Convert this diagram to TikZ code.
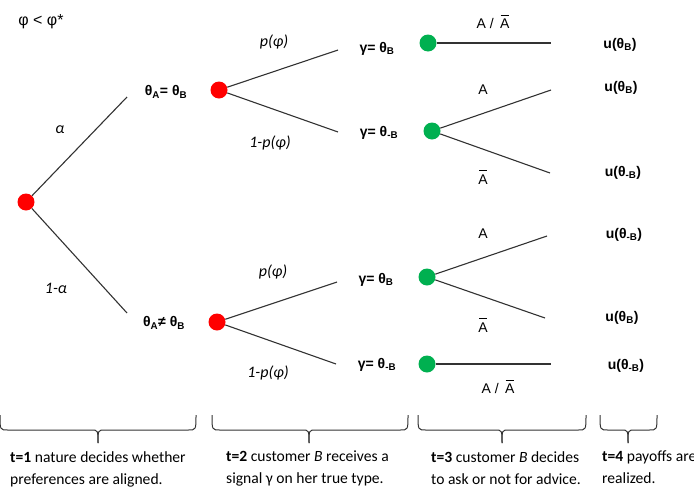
\documentclass[tikz,border=0pt]{standalone}
\usepackage{fontspec}
\setmainfont{Carlito}
\newfontfamily\labfont{Liberation Sans}
\definecolor{dotred}{RGB}{255,0,0}
\definecolor{dotgreen}{RGB}{0,176,80}
\definecolor{linegray}{RGB}{50,50,50}
\newcommand\sbs[1]{\textsubscript{#1}}
\newcommand\Abar{\leavevmode\rlap{\hspace{0.05em}\rule[0.93em]{0.57em}{0.07em}}A}
\begin{document}
\begin{tikzpicture}[x=1pt,y=-1pt,
  rdot/.style={circle,fill=dotred,minimum size=17pt,inner sep=0},
  gdot/.style={circle,fill=dotgreen,minimum size=17pt,inner sep=0},
  edge/.style={draw=linegray,line width=1.1pt},
  lab/.style={font=\labfont\bfseries\fontsize{14}{16}\selectfont,inner sep=0},
  act/.style={font=\labfont\fontsize{14}{16}\selectfont,inner sep=0},
  prob/.style={font=\itshape\fontsize{16}{18}\selectfont,inner sep=0},
  bracestyle/.style={draw=linegray,line width=1pt},
  desc/.style={font=\fontsize{15.6}{22}\selectfont,anchor=north west,align=left,inner sep=0}]
\useasboundingbox (0,0) rectangle (694,501);
% free ends
\coordinate (r1) at (127,97);
\coordinate (r2) at (127,313);
\coordinate (a1) at (338,50);
\coordinate (a2) at (338,132);
\coordinate (b1) at (337,282);
\coordinate (b2) at (336,364);
\coordinate (e1) at (551,43);
\coordinate (e2) at (551,90);
\coordinate (e3) at (550,173);
\coordinate (e4) at (547,236);
\coordinate (e5) at (545,318);
\coordinate (e6) at (551,364);
% decision nodes
\node[rdot] (r) at (26,202) {};
\node[rdot] (a) at (219,90) {};
\node[rdot] (b) at (217,322) {};
\node[gdot] (g1) at (428,43) {};
\node[gdot] (g2) at (432,131) {};
\node[gdot] (g3) at (427,277) {};
\node[gdot] (g4) at (427,364) {};
% edges
\draw[edge] (r) -- (r1);
\draw[edge] (r) -- (r2);
\draw[edge] (a) -- (a1);
\draw[edge] (a) -- (a2);
\draw[edge] (b) -- (b1);
\draw[edge] (b) -- (b2);
\draw[edge] (g1) -- (e1);
\draw[edge] (g2) -- (e2);
\draw[edge] (g2) -- (e3);
\draw[edge] (g3) -- (e4);
\draw[edge] (g3) -- (e5);
\draw[edge] (g4) -- (e6);
% title
\node[act,font=\labfont\fontsize{16}{18}\selectfont] (cond) at (41,22) {φ < φ*};
% probability labels
\node[prob] (lalpha) at (60,130) {α};
\node[prob] (l1alpha) at (56,288) {1-α};
\node[prob] (lpa) at (274,42) {p(φ)};
\node[prob] (lqa) at (270,143) {1-p(φ)};
\node[prob] (lpb) at (273,272) {p(φ)};
\node[prob] (lqb) at (268,373) {1-p(φ)};
% state labels
\node[lab] (sa) at (166,92) {θ\sbs{A}= θ\sbs{B}};
\node[lab] (sb) at (164,323) {θ\sbs{A}≠ θ\sbs{B}};
\node[lab] (s1) at (377,49) {γ= θ\sbs{B}};
\node[lab] (s2) at (379,133) {γ= θ\sbs{-B}};
\node[lab] (s3) at (376,280) {γ= θ\sbs{B}};
\node[lab] (s4) at (377,365) {γ= θ\sbs{-B}};
% action labels
\node[act] (c1) at (493,22) {A /\, \Abar};
\node[act] (c2) at (483,90) {A};
\node[act] (c3) at (483,177) {\Abar};
\node[act] (c4) at (483,234) {A};
\node[act] (c5) at (483,325) {\Abar};
\node[act] (c6) at (498,387) {A /\, \Abar};
% payoffs
\node[lab] (u1) at (620,45) {u(θ\sbs{B})};
\node[lab] (u2) at (621,88) {u(θ\sbs{B})};
\node[lab] (u3) at (623,173) {u(θ\sbs{-B})};
\node[lab] (u4) at (624,235) {u(θ\sbs{-B})};
\node[lab] (u5) at (622,318) {u(θ\sbs{B})};
\node[lab] (u6) at (626,366) {u(θ\sbs{-B})};
% braces
\foreach \xa/\xm/\xb in {0/98/196, 212/309/408, 418/502/586, 600/628/657}{
  \draw[bracestyle] (\xa,415) .. controls (\xa,430) .. (\xa+8,430) -- (\xm-7,430)
     .. controls (\xm,430) .. (\xm,443);
  \draw[bracestyle] (\xb,415) .. controls (\xb,430) .. (\xb-8,430) -- (\xm+7,430)
     .. controls (\xm,430) .. (\xm,443);
}
% descriptions
\node[desc] (t1) at (10,451) {\textbf{t=1} nature decides whether\\preferences are aligned.};
\node[desc] (t2) at (226,451) {\textbf{t=2} customer \textit{B} receives a\\signal γ on her true type.};
\node[desc] (t3) at (431,451) {\textbf{t=3} customer \textit{B} decides\\to ask or not for advice.};
\node[desc] (t4) at (602,451) {\textbf{t=4} payoffs are\\realized.};
\end{tikzpicture}
\end{document}
